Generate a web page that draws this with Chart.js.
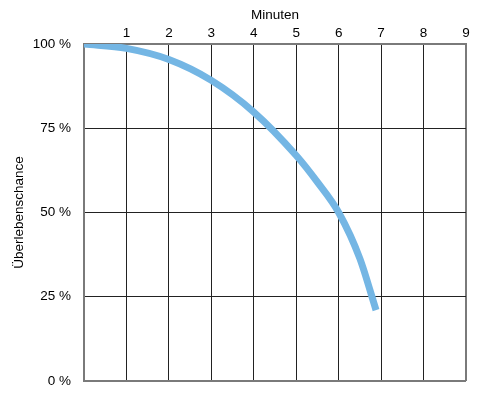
<!DOCTYPE html>
<html lang="de">
<head>
    <meta charset="UTF-8">
    <title>Überlebenschance</title>
    <script src="https://cdn.jsdelivr.net/npm/chart.js"></script>
    <style>
        body { margin: 0; background: #fff; }
        canvas { display: block; }
    </style>
</head>
<body>
    <canvas id="chart" width="499" height="402"></canvas>

    <script>
        // values
        const minutes  = [0, 1, 2, 3, 4, 5, 5.5, 6, 6.5, 6.88];
        const survival = [100, 98.7, 95.4, 89.2, 79.8, 66.9, 59, 50, 36.3, 21];
        const xTicks = [1, 2, 3, 4, 5, 6, 7, 8, 9];
        const yTicks = [0, 25, 50, 75, 100];

        const points = minutes.map((m, i) => ({ x: m, y: survival[i] }));
        const font = { family: 'Arial, "Liberation Sans", sans-serif', size: 13.5 };

        new Chart(document.getElementById('chart'), {
            type: 'line',
            data: {
                datasets: [{
                    data: points,
                    borderColor: 'rgb(116,182,228)',
                    borderWidth: 7,
                    borderCapStyle: 'butt',
                    pointRadius: 0,
                    cubicInterpolationMode: 'monotone',
                    fill: false
                }]
            },
            options: {
                responsive: false,
                animation: false,
                layout: { padding: { left: 0, right: 33, top: 0, bottom: 17 } },
                plugins: { legend: { display: false }, tooltip: { enabled: false } },
                scales: {
                    x: {
                        type: 'linear',
                        position: 'top',
                        min: 0,
                        max: 9,
                        afterBuildTicks: s => { s.ticks = [0].concat(xTicks).map(v => ({ value: v })); },
                        afterFit: s => { s.height = 44; },
                        ticks: {
                            color: '#000',
                            font: font,
                            padding: 3,
                            maxRotation: 0,
                            callback: v => v === 0 ? '' : String(v)
                        },
                        grid: {
                            drawTicks: false,
                            color: c => (c.tick && (c.tick.value === 0 || c.tick.value === 9)) ? '#7a7a7a' : '#222',
                            lineWidth: c => (c.tick && (c.tick.value === 0 || c.tick.value === 9)) ? 2 : 1
                        },
                        border: { color: '#7a7a7a', width: 2 },
                        title: { display: true, text: 'Minuten', color: '#000', font: font, padding: { top: 7, bottom: 0 } }
                    },
                    y: {
                        min: 0,
                        max: 100,
                        afterBuildTicks: s => { s.ticks = yTicks.map(v => ({ value: v })); },
                        afterFit: s => { s.width = 84; },
                        ticks: {
                            color: '#000',
                            font: font,
                            padding: 13,
                            callback: v => v + ' %'
                        },
                        grid: {
                            drawTicks: false,
                            color: c => (c.tick && (c.tick.value === 0 || c.tick.value === 100)) ? '#7a7a7a' : '#222',
                            lineWidth: c => (c.tick && (c.tick.value === 0 || c.tick.value === 100)) ? 2 : 1
                        },
                        border: { color: '#7a7a7a', width: 2 },
                        title: { display: true, text: 'Überlebenschance', color: '#000', font: font, padding: { top: 11, bottom: 0 } }
                    }
                }
            }
        });
    </script>
</body>
</html>
